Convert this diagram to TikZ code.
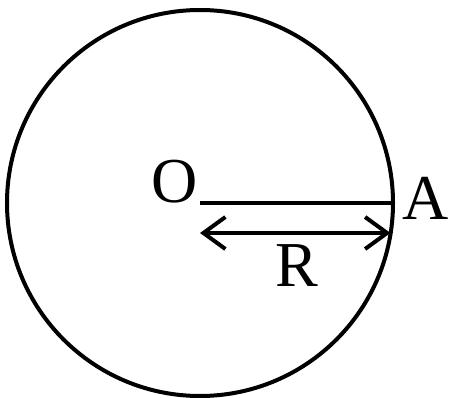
\documentclass[tikz,border=0pt]{standalone}
\usepackage{fontspec}
\setmainfont{Liberation Serif}
\usetikzlibrary{arrows.meta,positioning}
\tikzset{
  >={Straight Barb[length=22pt,width=32pt,line width=4pt]},
  big text/.style={font=\fontsize{64}{64}\selectfont, inner sep=0pt},
  thick line/.style={line width=4pt},
}

\begin{document}
\begin{tikzpicture}[x=1pt, y=-1pt, thick line]
    \useasboundingbox (0,0) rectangle (449,398);
    \coordinate (O)  at (200,203);
    \coordinate (A)  at (393,203);
    \coordinate (r0) at (200,233);
    \coordinate (r1) at (390.5,233);
    \draw (O) circle [radius=193];
    \node[big text] (lO) at (175,182) {O};
    \node[big text] (lA) at (426,198) {A};
    \draw (O) -- (A);
    \draw[<->] (r0) -- (r1)
      node[midway, below=10pt, xshift=2pt, big text] (lR) {R};
  \end{tikzpicture}
\end{document}
